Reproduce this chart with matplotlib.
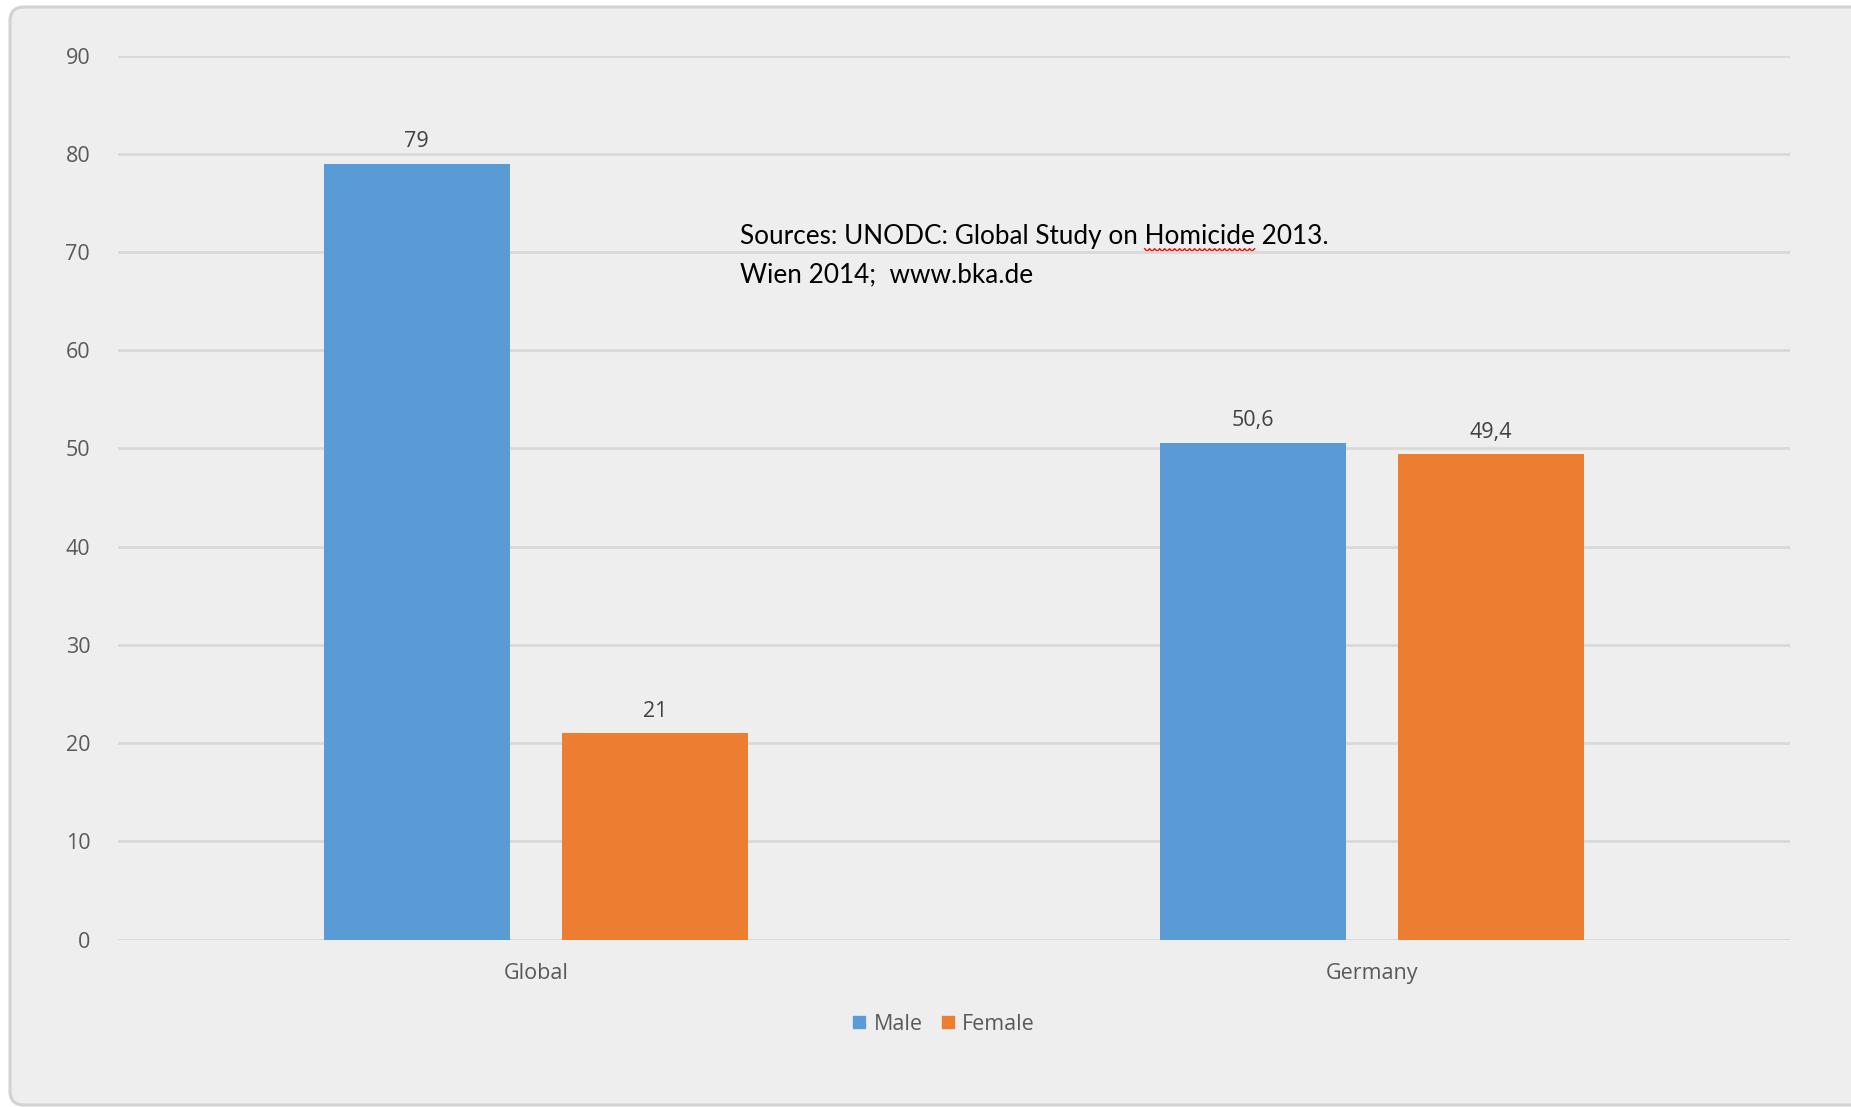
import matplotlib
matplotlib.use("Agg")
import matplotlib.pyplot as plt
from matplotlib.patches import FancyBboxPatch
from matplotlib.lines import Line2D
import numpy as np

# Share of homicide victims by sex (%)
categories = ["Global", "Germany"]
male = [79, 50.6]
female = [21, 49.4]
series_names = ["Male", "Female"]
yticks = [0, 10, 20, 30, 40, 50, 60, 70, 80, 90]
source_lines = ["Sources: UNODC: Global Study on Homicide 2013.",
                "Wien 2014;  www.bka.de"]

BLUE = "#5B9BD5"
ORANGE = "#ED7D31"
BG = "#EEEEEE"
GRID = "#D9D9D9"
TXT = "#595959"

W, H, DPI = 1851, 1107, 100
fig = plt.figure(figsize=(W / DPI, H / DPI), dpi=DPI, facecolor="white")

# chart area background with a rounded light border
frame = FancyBboxPatch((10, 2), W + 40, H - 9,
                       boxstyle="round,pad=0,rounding_size=14",
                       transform=None, facecolor=BG, edgecolor="#D2D2D2",
                       linewidth=2.2, zorder=-5)
fig.patches.append(frame)

ax = fig.add_axes([118 / W, 1 - 939.7 / H, (1790 - 118) / W, (939.7 - 55.5) / H])
ax.set_facecolor("none")
ax.set_zorder(2)

x = np.arange(len(categories))
width = 0.2225
off = 0.1425
b1 = ax.bar(x - off, male, width, color=BLUE, zorder=3, label=series_names[0])
b2 = ax.bar(x + off, female, width, color=ORANGE, zorder=3, label=series_names[1])

fmt = lambda v: f"{v:g}".replace(".", ",")
for bars, vals in ((b1, male), (b2, female)):
    ax.bar_label(bars, labels=[fmt(v) for v in vals], padding=8,
                 fontsize=15.5, color="#404040", family="Open Sans")

ax.set_xlim(-0.5, len(categories) - 0.5)
ax.set_ylim(0, 90)
ax.set_yticks(yticks)
ax.set_yticklabels([str(t) for t in yticks])
ax.set_xticks(x)
ax.set_xticklabels(categories)
ax.tick_params(axis="both", length=0, labelsize=15.5, labelcolor=TXT)
ax.tick_params(axis="y", pad=20)
ax.tick_params(axis="x", pad=17)
for lab in ax.get_xticklabels() + ax.get_yticklabels():
    lab.set_family("Open Sans")
ax.yaxis.grid(True, color=GRID, linewidth=2, zorder=0)
ax.set_axisbelow(True)
for s in ax.spines.values():
    s.set_visible(False)

# legend
handles = [Line2D([], [], marker="s", linestyle="none", markersize=8.6,
                  markerfacecolor=c, markeredgecolor=c) for c in (BLUE, ORANGE)]
fig.legend(handles, series_names, loc="center", bbox_to_anchor=(944 / W, 1 - 1024 / H),
           ncol=2, frameon=False, handlelength=0.6, handletextpad=0.35,
           columnspacing=0.9, prop={"family": "Open Sans", "size": 15.5},
           labelcolor=TXT)

# source note
FS = 18.8
tx = 740 / W
fig.text(tx, 1 - 244 / H, source_lines[0], family="Lato", fontsize=FS,
         color="black", va="baseline", ha="left")
fig.text(tx, 1 - 282 / H, source_lines[1], family="Lato", fontsize=FS,
         color="black", va="baseline", ha="left")

# wavy spell-check underline beneath "Homicide"
fig.canvas.draw()
r = fig.canvas.get_renderer()
line0 = source_lines[0]
i0 = line0.index("Homicide")
def text_width(s):
    t = fig.text(0, 0, s, family="Lato", fontsize=FS)
    w = t.get_window_extent(r).width
    t.remove()
    return w
x0 = 740 + text_width(line0[:i0])
x1 = 740 + text_width(line0[:i0 + len("Homicide")])
yb = 250
xs = np.arange(x0, x1 + 0.1, 2.5)
ys = yb + np.where(np.arange(len(xs)) % 2 == 0, -1.3, 1.3)
fig.add_artist(Line2D(xs, H - ys, transform=None, color="#FF0000", linewidth=1.0))

fig.savefig("out.png", dpi=DPI, facecolor=fig.get_facecolor())
